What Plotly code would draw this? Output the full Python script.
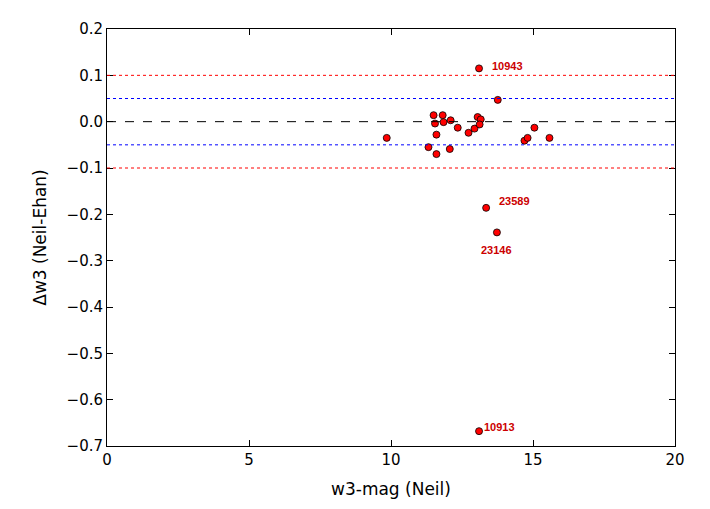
import plotly.graph_objects as go

mag = [9.85, 11.32, 11.5, 11.55, 11.6, 11.6, 11.82, 11.85, 12.07, 12.1, 12.35, 12.73,
       12.94, 13.05, 13.16, 13.12, 13.76, 14.7, 14.81, 15.05, 15.58,
       13.1, 13.35, 13.73, 13.1]
dw3 = [-0.035, -0.055, 0.014, -0.004, -0.028, -0.07, 0.014, -0.001, -0.059, 0.003, -0.013, -0.024,
       -0.015, 0.01, 0.005, -0.006, 0.047, -0.041, -0.035, -0.013, -0.035,
       0.115, -0.186, -0.239, -0.668]
lab_x = [13.1, 13.35, 13.73, 13.1]
lab_y = [0.115, -0.186, -0.239, -0.668]
lab_txt = ["10943", "23589", "23146", "10913"]
lab_shift = [(28, 2), (28, 7), (0, -18), (20, 4)]

fig = go.Figure()
for yv, c, d in [(0.1, "red", "dot"), (-0.1, "red", "dot"), (0.05, "blue", "dot"),
                 (-0.05, "blue", "dot"), (0, "black", "dash")]:
    fig.add_hline(y=yv, line=dict(color=c, dash=d, width=1))
fig.add_trace(go.Scatter(x=mag, y=dw3, mode="markers",
                         marker=dict(color="red", size=7, line=dict(color="black", width=0.8))))
for x, y, t, (dx, dy) in zip(lab_x, lab_y, lab_txt, lab_shift):
    fig.add_annotation(x=x, y=y, text="<b>" + t + "</b>", showarrow=False, xshift=dx, yshift=dy,
                       font=dict(color="#cc0000", size=11, family="Liberation Sans Narrow, Arial Narrow, Arial"))

ax = dict(showgrid=False, zeroline=False, mirror="ticks", showline=True, linecolor="black",
          ticks="inside", ticklen=6, tickcolor="black", tickfont=dict(size=15))
fig.update_layout(
    width=710, height=509, showlegend=False, plot_bgcolor="white", paper_bgcolor="white",
    margin=dict(l=99, r=43, t=18, b=71),
    font=dict(family="DejaVu Sans", color="black"),
    xaxis=dict(range=[0, 20], dtick=5, title=dict(text="w3-mag (Neil)", font=dict(size=17)), **ax),
    yaxis=dict(range=[-0.7, 0.2], dtick=0.1, tickformat=".1f",
               title=dict(text="Δw3 (Neil-Ehan)", font=dict(size=17)), **ax),
)
fig.write_html("out.html")
